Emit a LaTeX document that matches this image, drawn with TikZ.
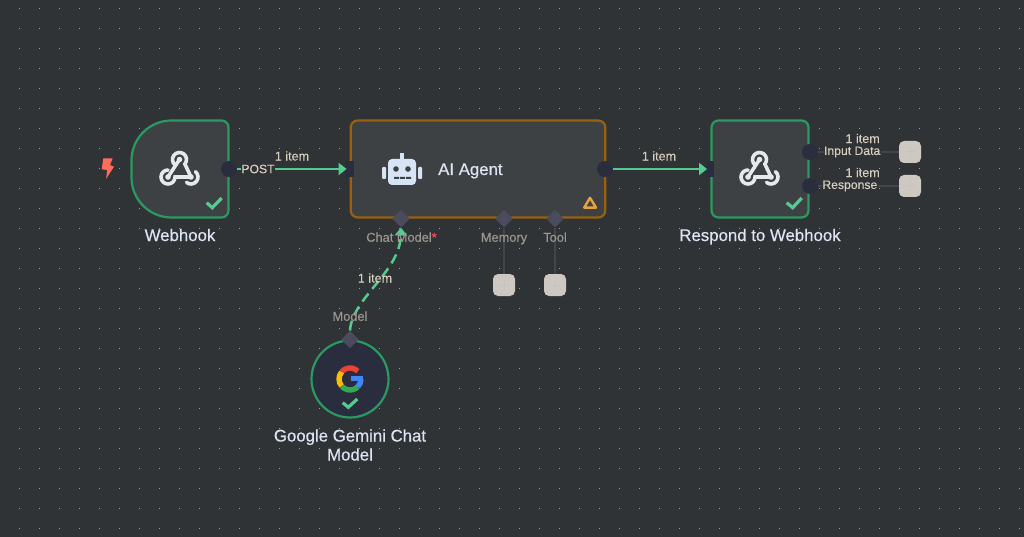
\documentclass[tikz,border=0pt]{standalone}
\usepackage{fontspec}
\setmainfont[FakeBold=0.12]{Liberation Sans}
\newfontfamily\ttlfont[FakeBold=0.45]{Liberation Sans}
\usetikzlibrary{arrows.meta,shapes.geometric}
\definecolor{bgc}{HTML}{303336}
\definecolor{dotc}{HTML}{9A9DA1}
\definecolor{nodefill}{HTML}{3E4144}
\definecolor{okgreen}{HTML}{2A9A62}
\definecolor{amber}{HTML}{99610F}
\definecolor{portc}{HTML}{2A2D3D}
\definecolor{diac}{HTML}{4A4B5C}
\definecolor{flow}{HTML}{55CC8F}
\definecolor{stub}{HTML}{434649}
\definecolor{plusc}{HTML}{CDC8C1}
\definecolor{plusl}{HTML}{C7C2BB}
\definecolor{ttlc}{HTML}{DDE4F4}
\definecolor{itemc}{HTML}{D8CFBF}
\definecolor{portl}{HTML}{9C978E}
\definecolor{hookc}{HTML}{E6E8EC}
\definecolor{botc}{HTML}{D6E4F5}
\definecolor{boltc}{HTML}{FF6D5A}
\definecolor{warnc}{HTML}{E8A23E}
\definecolor{gred}{HTML}{EA4335}
\definecolor{gyel}{HTML}{FBBC05}
\definecolor{ggrn}{HTML}{34A853}
\definecolor{gblu}{HTML}{4285F4}
\definecolor{starc}{HTML}{FF4D5A}
\tikzset{
  mainbox/.style={draw=okgreen,line width=2.2pt,fill=nodefill,rounded corners=7pt,inner sep=0pt,minimum width=97pt,minimum height=97pt},
  ghostbox/.style={inner sep=0pt,minimum width=97pt,minimum height=97pt},
  outport/.style={circle,fill=portc,inner sep=0pt,minimum size=16pt},
  inport/.style={rectangle,fill=portc,inner sep=0pt,minimum width=8.5pt,minimum height=16pt},
  subport/.style={diamond,fill=diac,inner sep=0pt,minimum width=17.5pt,minimum height=17.5pt},
  plusbox/.style={rectangle,rounded corners=5pt,fill=plusc,inner sep=0pt,minimum size=22pt,
    path picture={\draw[plusl,line width=1pt] ([xshift=-5pt]path picture bounding box.center)--([xshift=5pt]path picture bounding box.center);
      \draw[plusl,line width=1pt] ([yshift=-5pt]path picture bounding box.center)--([yshift=5pt]path picture bounding box.center);}},
  flowline/.style={flow,line width=2.5pt,shorten >=-1.5pt,-{Triangle[length=8pt,width=12pt]}},
  stubline/.style={stub,line width=2.5pt},
  title/.style={text=ttlc,font=\ttlfont\fontsize{16.8}{19}\selectfont,inner sep=0pt,align=center},
  onetitle/.style={title,text height=12pt,text depth=4pt},
  itemlab/.style={text=itemc,font=\fontsize{12.6}{14}\selectfont,inner sep=0pt},
  portlab/.style={text=portl,font=\fontsize{12.8}{14}\selectfont,inner sep=0pt,text height=9.5pt,text depth=3pt},
  outlab/.style={text=itemc,font=\fontsize{12.2}{14}\selectfont,fill=bgc,inner sep=0.5pt},
  tick/.style={draw=flow,line width=3.2pt,line join=miter},
  hook/.pic={
    \begin{scope}[hookc,line width=3.6pt,line cap=round]
      \draw (-5,-4.14) arc (130:400:7) -- (11,8);
      \draw (-12,1) arc (-90:-360:7) -- (11,8);
      \draw (15.5,2.64) arc (-50:130:7);
      \draw (-0.5,-9.5) -- (-12,8);
      \fill (-0.5,-9.5) circle (2.8pt) (-12,8) circle (2.8pt) (11,8) circle (2.8pt);
    \end{scope}
  }
}
\begin{document}
\begin{tikzpicture}[x=1pt,y=-1pt]
\useasboundingbox (0,0) rectangle (1024,537);
\fill[bgc] (0,0) rectangle (1024,537);
\foreach \i in {0,...,50}{\foreach \j in {0,...,26}{
  \fill[dotc] ({19+20*\i},{8+20*\j}) rectangle ++(1,1);
}}
% main nodes
\node[ghostbox] (wh) at (180,169) {};
\draw[okgreen,line width=2.2pt,fill=nodefill]
  (180,120.5) -- (221.5,120.5) arc (-90:0:7) -- (228.5,210.5) arc (0:90:7)
  -- (171.5,217.5) arc (90:180:40) -- (131.5,160.5) arc (180:270:40) -- cycle;
\node[mainbox,draw=amber,minimum width=254.5pt] (agent) at (478,169) {};
\node[mainbox] (resp) at (760,169) {};
\node[circle,draw=okgreen,line width=2.2pt,fill=portc,inner sep=0pt,minimum size=77pt] (gem) at (350,379) {};
% ports
\node[outport] (wout) at (229,169) {};
\node[inport] (ain) at (349.5,169) {};
\node[outport] (aout) at (605,169) {};
\node[inport] (rin) at (710,169) {};
\node[outport] (rout1) at (810,152) {};
\node[outport] (rout2) at (810,186) {};
\node[subport] (dchat) at (401,218.6) {};
\node[subport] (dmem) at (504,218.6) {};
\node[subport] (dtool) at (555,218.6) {};
\node[subport] (gport) at (350,339.5) {};
\node[plusbox] (p1) at (910,152) {};
\node[plusbox] (p2) at (910,186) {};
\node[plusbox] (p3) at (504,285) {};
\node[plusbox] (p4) at (555,285) {};
% connectors
\draw[stubline] (rout1) -- (p1);
\draw[stubline] (rout2) -- (p2);
\draw[stubline] (dmem) -- (p3);
\draw[stubline] (dtool) -- (p4);
\draw[flowline] (wout) -- (ain);
\draw[flowline] (aout) -- (rin);
\draw[flowline,shorten >=0pt,dash pattern=on 10pt off 6pt] (gport.north) .. controls (352,298) and (400,272) .. (dchat.south);
% icons
\path (180,169) pic {hook};
\path (760,169) pic {hook};
\draw[tick] (206.7,202.7) -- (212.3,207.7) -- (221.7,198);
\draw[tick] (786.7,202.7) -- (792.7,207.7) -- (801.7,198);
\draw[tick] (342.7,402.7) -- (348.3,407.3) -- (357.3,399);
\fill[boltc] (103.3,158.3) -- (112.7,158.3) -- (110,165) -- (114,166.7) -- (106,179) -- (107.3,170) -- (101.7,169.3) -- cycle;
\draw[draw=warnc,line width=2.4pt,line join=round] (590,197.8) -- (584.2,207.6) -- (596,207.6) -- cycle;
% robot
\fill[botc,rounded corners=4pt] (388,159) rectangle (416,185);
\fill[botc] (400.3,153) rectangle (403.7,160);
\fill[botc,rounded corners=1pt] (382,167) rectangle (386,179);
\fill[botc,rounded corners=1pt] (418,167) rectangle (422,179);
\fill[nodefill] (396,169) circle (2.8pt) (408,169) circle (2.8pt);
\fill[nodefill] (394,177) rectangle (399,179) (400,177) rectangle (405,179) (406,177) rectangle (411,179);
% google G
\begin{scope}[line width=5.4pt]
  \draw[draw=gred] (341.6,371.9) arc (220:315:11);
  \draw[draw=gyel] (341.6,386.1) arc (140:220:11);
  \draw[draw=ggrn] (357.8,386.8) arc (45:140:11);
  \draw[draw=gblu] (361,379) arc (0:45:11);
  \draw[draw=gblu,line width=4.8pt] (350.5,378.7) -- (363,378.7);
\end{scope}
% labels
\node[onetitle] (lwh) at (180,237) {Webhook};
\node[onetitle,anchor=west] (lag) at (438,171) {AI Agent};
\node[onetitle] (lre) at (760,237) {Respond to Webhook};
\node[title] (lge) at (350,445) {Google Gemini Chat\\Model};
\node[itemlab] (i1) at (292,156) {1 item};
\node[itemlab] (i2) at (659,156) {1 item};
\node[itemlab] (i3) at (375,278) {1 item};
\node[itemlab,anchor=east] (i4) at (880,138.5) {1 item};
\node[itemlab,anchor=east] (i5) at (880,172.5) {1 item};
\node[outlab] (lpost) at (258,169) {POST};
\node[outlab,anchor=east] (linp) at (881,152) {Input Data};
\node[outlab,anchor=east] (lres) at (878,186) {Response};
\node[portlab] (lchat) at (401.5,238.5) {Chat Model\textcolor{starc}{*}};
\node[portlab] (lmem) at (504,238.5) {Memory};
\node[portlab] (ltool) at (555,238.5) {Tool};
\node[portlab] (lmod) at (350,317.5) {Model};
\end{tikzpicture}
\end{document}
